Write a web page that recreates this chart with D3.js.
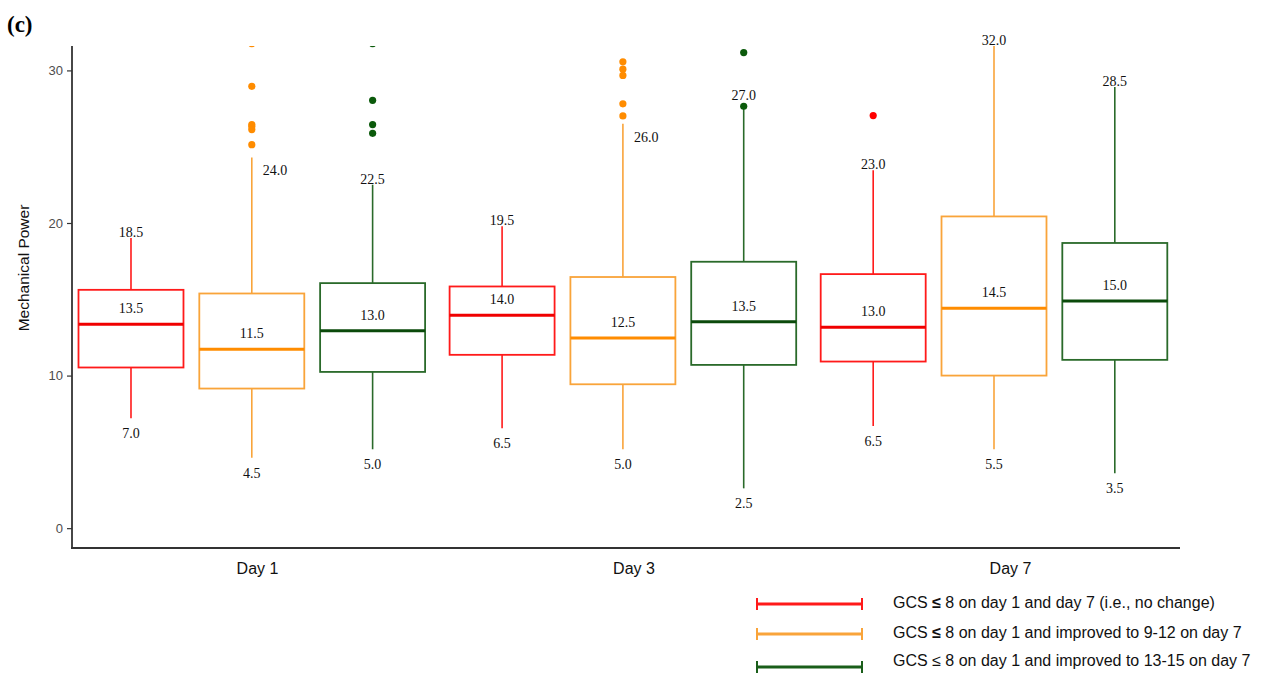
<!DOCTYPE html>
<html>
<head>
<meta charset="utf-8">
<script src="https://cdn.jsdelivr.net/npm/d3@7/dist/d3.min.js"></script>
<style>
  html, body { margin: 0; padding: 0; background: #fff; }
  svg { display: block; }
</style>
</head>
<body>
<svg id="chart" width="1272" height="674"></svg>
<script>
// ---------------- DATA ----------------
const days = ["Day 1", "Day 3", "Day 7"];
const groups = [
  "GCS ≤ 8 on day 1 and day 7 (i.e., no change)",
  "GCS ≤ 8 on day 1 and improved to 9-12 on day 7",
  "GCS ≤ 8 on day 1 and improved to 13-15 on day 7"
];
const yTicks = [0, 10, 20, 30];
// per day (rows) x per group (columns)
const whiskerLow  = [[7.2, 4.62, 5.17], [6.55, 5.17, 2.61], [6.7, 5.17, 3.6]];
const q1          = [[10.53, 9.15, 10.24], [11.36, 9.43, 10.7], [10.92, 10.0, 11.03]];
const median      = [[13.37, 11.73, 12.93], [13.96, 12.47, 13.52], [13.17, 14.42, 14.88]];
const q3          = [[15.62, 15.38, 16.06], [15.84, 16.46, 17.46], [16.65, 20.43, 18.69]];
const whiskerHigh = [[19.02, 24.3, 22.51], [19.78, 26.5, 27.65], [23.45, 32.0, 28.92]];
const outliers = [
  [[], [31.75, 28.96, 26.45, 26.32, 26.12, 25.13], [31.75, 28.04, 26.45, 25.88]],
  [[], [30.56, 30.08, 29.67, 27.81, 27.02], [31.17, 27.65]],
  [[27.04], [], []]
];
const maxLabels    = [["18.5", "24.0", "22.5"], ["19.5", "26.0", "27.0"], ["23.0", "32.0", "28.5"]];
const medianLabels = [["13.5", "11.5", "13.0"], ["14.0", "12.5", "13.5"], ["13.0", "14.5", "15.0"]];
const minLabels    = [["7.0", "4.5", "5.0"], ["6.5", "5.0", "2.5"], ["6.5", "5.5", "3.5"]];

// ---------------- STYLE ----------------
const boxColor     = ["#ff1a1a", "#f9a43a", "#2a6a2a"];
const medianColor  = ["#f00000", "#ff8c00", "#0b4a0b"];
const outlierColor = ["#ff0000", "#ff8c00", "#0b5a0b"];
const legendColor  = ["#ff1a1a", "#f9a43a", "#1a5e1a"];

const svg = d3.select("#chart");
const plotTop = 46, plotBottom = 548, plotLeft = 72, plotRight = 1180;

const y = d3.scaleLinear().domain([-1.3, 31.6]).range([plotBottom, plotTop]);
const xDay = d3.scalePoint().domain(days).range([251.8, 994]);
const xGroup = d3.scaleBand().domain(d3.range(groups.length)).range([-173.3, 173.3]).paddingInner(0.131);
const xLabel = d3.scalePoint().domain(days).range([257, 1010]);

// (c) label
svg.append("text").attr("x", 7).attr("y", 32)
  .attr("font-family", "Liberation Serif, Times New Roman, serif")
  .attr("font-weight", "bold").attr("font-size", 23).attr("fill", "#000")
  .text("(c)");

// clip
svg.append("clipPath").attr("id", "plotclip").append("rect")
  .attr("x", plotLeft).attr("y", plotTop).attr("width", plotRight - plotLeft).attr("height", plotBottom - plotTop);

// Y axis
const yAxisG = svg.append("g").attr("transform", `translate(${plotLeft},0)`)
  .call(d3.axisLeft(y).tickValues(yTicks).tickSize(5).tickPadding(4).tickFormat(d3.format("d")));
yAxisG.select(".domain").remove();
yAxisG.selectAll(".tick line").attr("stroke", "#333").attr("stroke-width", 1.2);
yAxisG.selectAll(".tick text").attr("font-family", "Liberation Sans, Arial, sans-serif")
  .attr("font-size", 13).attr("fill", "#4d4d4d");
svg.append("line").attr("x1", plotLeft).attr("x2", plotLeft).attr("y1", plotTop).attr("y2", plotBottom + 1)
  .attr("stroke", "#333").attr("stroke-width", 1.8);

// X axis
const xAxisG = svg.append("g").attr("transform", `translate(0,${plotBottom})`)
  .call(d3.axisBottom(xLabel).tickSize(0).tickPadding(15));
xAxisG.select(".domain").remove();
xAxisG.selectAll(".tick text").attr("font-family", "Liberation Sans, Arial, sans-serif")
  .attr("font-size", 16).attr("fill", "#111");
svg.append("line").attr("x1", plotLeft - 1).attr("x2", plotRight).attr("y1", plotBottom).attr("y2", plotBottom)
  .attr("stroke", "#333").attr("stroke-width", 1.8);

// Y title
svg.append("text")
  .attr("transform", `translate(29,268) rotate(-90)`)
  .attr("text-anchor", "middle")
  .attr("font-family", "Liberation Sans, Arial, sans-serif")
  .attr("font-size", 15.5).attr("fill", "#111")
  .text("Mechanical Power");

// Boxes
const plot = svg.append("g").attr("clip-path", "url(#plotclip)");
const labels = svg.append("g")
  .attr("font-family", "Liberation Serif, Times New Roman, serif")
  .attr("font-size", 14).attr("fill", "#111").attr("text-anchor", "middle");

const bw = xGroup.bandwidth();
days.forEach((day, di) => {
  groups.forEach((g, gi) => {
    const x0 = xDay(day) + xGroup(gi);
    const cx = x0 + bw / 2;
    const c = boxColor[gi];
    // whiskers
    plot.append("line").attr("x1", cx).attr("x2", cx)
      .attr("y1", y(q3[di][gi])).attr("y2", y(whiskerHigh[di][gi]))
      .attr("stroke", c).attr("stroke-width", 1.6);
    plot.append("line").attr("x1", cx).attr("x2", cx)
      .attr("y1", y(q1[di][gi])).attr("y2", y(whiskerLow[di][gi]))
      .attr("stroke", c).attr("stroke-width", 1.6);
    // box
    plot.append("rect").attr("x", x0).attr("width", bw)
      .attr("y", y(q3[di][gi])).attr("height", y(q1[di][gi]) - y(q3[di][gi]))
      .attr("fill", "none").attr("stroke", c).attr("stroke-width", 1.8);
    // median
    plot.append("line").attr("x1", x0).attr("x2", x0 + bw)
      .attr("y1", y(median[di][gi])).attr("y2", y(median[di][gi]))
      .attr("stroke", medianColor[gi]).attr("stroke-width", 3);
    // outliers
    outliers[di][gi].forEach(v => {
      plot.append("circle").attr("cx", cx).attr("cy", y(v)).attr("r", 3.6)
        .attr("fill", outlierColor[gi]);
    });

    // labels
    const hi = whiskerHigh[di][gi];
    const yHi = Math.max(y(hi), plotTop);
    const above = outliers[di][gi].filter(v => v >= hi).map(v => v - hi);
    const nearest = above.length ? d3.min(above) : Infinity;
    if (nearest > 0.2 && nearest < 1.5) {
      labels.append("text").attr("x", cx + 11).attr("y", yHi + 18)
        .attr("text-anchor", "start").text(maxLabels[di][gi]);
    } else if (nearest <= 0.2) {
      labels.append("text").attr("x", cx).attr("y", yHi - 6).text(maxLabels[di][gi]);
    } else {
      labels.append("text").attr("x", cx).attr("y", yHi - 1).text(maxLabels[di][gi]);
    }
    labels.append("text").attr("x", cx).attr("y", y(median[di][gi]) - 11).text(medianLabels[di][gi]);
    labels.append("text").attr("x", cx).attr("y", y(whiskerLow[di][gi]) + 20).text(minLabels[di][gi]);
  });
});

// Legend
const legendY = [604, 634, 667];
const legendTextY = [608, 638, 666];
const leg = svg.append("g");
groups.forEach((g, gi) => {
  const ly = legendY[gi];
  const col = legendColor[gi];
  leg.append("line").attr("x1", 757).attr("x2", 862).attr("y1", ly).attr("y2", ly)
    .attr("stroke", col).attr("stroke-width", 3);
  [757, 862].forEach(xx => leg.append("line").attr("x1", xx).attr("x2", xx)
    .attr("y1", ly - 6).attr("y2", ly + 6).attr("stroke", col).attr("stroke-width", 2));
  const t = leg.append("text").attr("x", 893).attr("y", legendTextY[gi])
    .attr("font-family", "Liberation Sans, Arial, sans-serif")
    .attr("font-size", 16).attr("fill", "#111");
  const parts = g.split("≤");
  t.append("tspan").text(parts[0]);
  t.append("tspan").attr("font-weight", gi < 2 ? "bold" : "normal").text("≤");
  t.append("tspan").text(parts[1]);
});
</script>
</body>
</html>
